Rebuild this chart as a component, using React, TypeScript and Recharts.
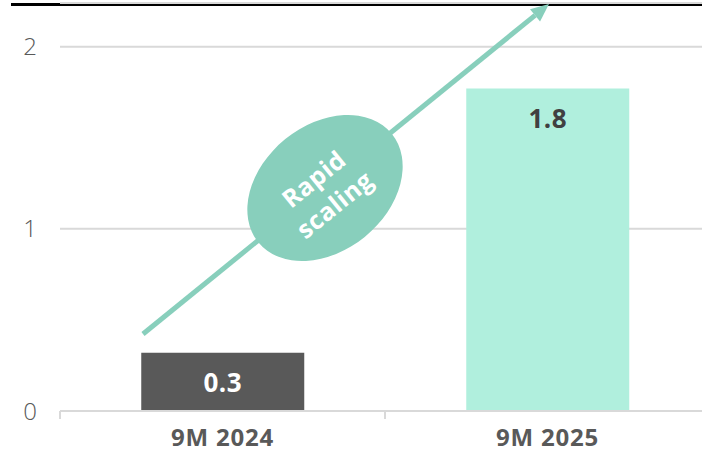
import { Bar, BarChart, CartesianGrid, Cell, LabelList, XAxis, YAxis } from 'recharts'

const categories = ['9M 2024', '9M 2025']
const values = [0.32, 1.77]
const yTicks = [0, 1, 2]
const calloutLines = ['Rapid', 'scaling']

const barColors = ['#595959', '#b0efdd']
const labelColors = ['#ffffff', '#404040']
const teal = '#88cfbc'
const grey = '#595959'
const font = '"Open Sans", sans-serif'

const data = categories.map((name, i) => ({ name, value: values[i] }))

const YTick = ({ y, payload }: any) => (
	<text x={30} y={y + 8.5} textAnchor="middle" fontSize={24} fontWeight={300} fill={grey} fontFamily={font}>
		{payload.value}
	</text>
)

const XTick = ({ x, y, payload }: any) => (
	<g>
		<line x1={x - payload.offset} x2={x - payload.offset} y1={y - 8} y2={y} stroke="#d9d9d9" strokeWidth={2} />
		<text
			x={x}
			y={y + 27}
			textAnchor="middle"
			fontSize={24}
			fontWeight={700}
			letterSpacing={0.8}
			fill={grey}
			fontFamily={font}
		>
			{payload.value}
		</text>
	</g>
)

const BarLabel = ({ x, y, width, height, value, index }: any) => {
	const cy = index === 0 ? y + height / 2 : y + 29
	return (
		<text
			x={x + width / 2}
			y={cy}
			textAnchor="middle"
			dominantBaseline="central"
			fontSize={26}
			fontWeight={700}
			letterSpacing={0.5}
			fill={labelColors[index]}
			fontFamily={font}
		>
			{Number(value).toFixed(1)}
		</text>
	)
}

function Callout() {
	const start = { x: 143, y: 334 }
	const tip = { x: 549, y: 4 }
	const ang = Math.atan2(tip.y - start.y, tip.x - start.x)
	const deg = (ang * 180) / Math.PI
	const headLen = 18
	const headHalf = 8
	const bx = tip.x - headLen * Math.cos(ang)
	const by = tip.y - headLen * Math.sin(ang)
	const px = -Math.sin(ang)
	const py = Math.cos(ang)
	const cx = 325
	const cy = 188
	return (
		<svg
			width={702}
			height={453}
			style={{ position: 'absolute', left: 0, top: 0, pointerEvents: 'none' }}
		>
			<line x1={start.x} y1={start.y} x2={bx} y2={by} stroke={teal} strokeWidth={5} />
			<polygon
				points={`${tip.x},${tip.y} ${bx + px * headHalf},${by + py * headHalf} ${bx - px * headHalf},${by - py * headHalf}`}
				fill={teal}
			/>
			<g transform={`translate(${cx},${cy}) rotate(${deg})`}>
				<ellipse cx={0} cy={0} rx={86} ry={63} fill={teal} />
				{calloutLines.map((t, i) => (
					<text
						key={t}
						x={-3}
						y={i === 0 ? -15 : 18}
						textAnchor="middle"
						dominantBaseline="central"
						fontSize={25}
						fontWeight={700}
						letterSpacing={0.5}
						fill="#ffffff"
						fontFamily={font}
					>
						{t}
					</text>
				))}
			</g>
		</svg>
	)
}

export default function App() {
	return (
		<div
			style={{
				position: 'absolute',
				left: 0,
				top: 0,
				width: 702,
				height: 453,
				overflow: 'hidden',
				background: '#ffffff'
			}}
		>
			<div style={{ position: 'absolute', left: 11, right: 0, top: 3, height: 3, background: '#000000' }} />
			<BarChart
				width={720}
				height={453}
				data={data}
				margin={{ top: 3, right: 10, left: 0, bottom: 0 }}
				barCategoryGap="25%"
			>
				<CartesianGrid vertical={false} stroke="#d9d9d9" strokeWidth={2} />
				<YAxis
					domain={[0, 2.24]}
					ticks={yTicks}
					width={60}
					axisLine={false}
					tickLine={false}
					tick={<YTick />}
				/>
				<XAxis
					dataKey="name"
					height={42}
					axisLine={{ stroke: '#d9d9d9', strokeWidth: 2 }}
					tickLine={false}
					tick={<XTick />}
				/>
				<Bar dataKey="value" isAnimationActive={false}>
					{data.map((d, i) => (
						<Cell key={d.name} fill={barColors[i]} />
					))}
					<LabelList dataKey="value" content={<BarLabel />} />
				</Bar>
			</BarChart>
			<Callout />
		</div>
	)
}
